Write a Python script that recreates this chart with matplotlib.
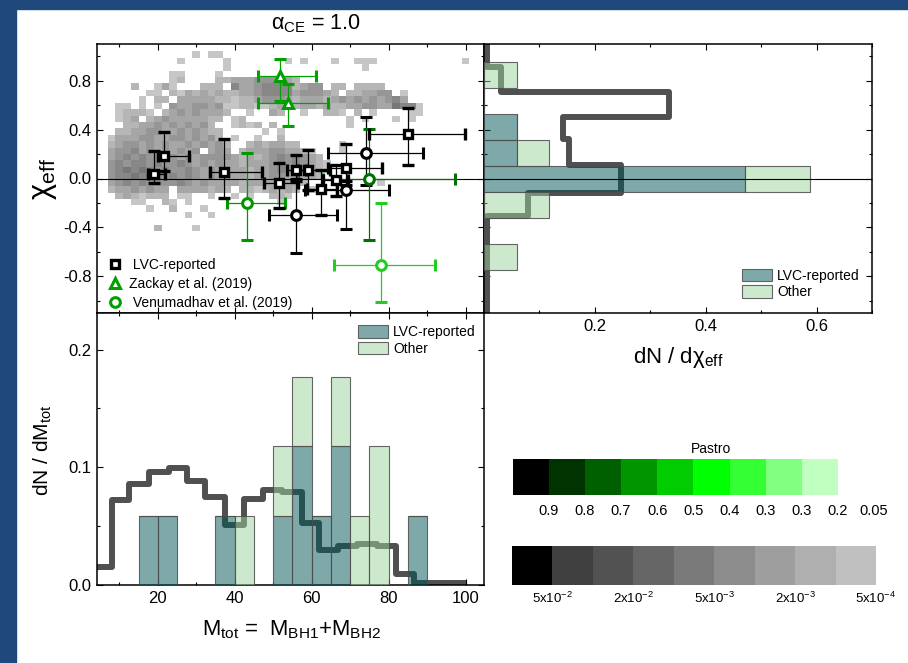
import numpy as np
import matplotlib
matplotlib.use('Agg')
import matplotlib.pyplot as plt
from matplotlib.colors import ListedColormap, BoundaryNorm
from matplotlib.lines import Line2D
from matplotlib.patches import Patch, Rectangle
from matplotlib.ticker import FixedLocator, MultipleLocator, FormatStrFormatter

plt.rcParams['font.family'] = ['Liberation Sans', 'DejaVu Sans']
plt.rcParams['mathtext.fontset'] = 'custom'
plt.rcParams['mathtext.rm'] = 'Liberation Sans'
plt.rcParams['mathtext.sf'] = 'Liberation Sans'
plt.rcParams['mathtext.it'] = 'Liberation Sans:italic'
plt.rcParams['mathtext.bf'] = 'Liberation Sans:bold'
plt.rcParams['axes.unicode_minus'] = False

# ---- LVC-reported events (total mass, chi_eff, asymmetric errors)
lvc_m = [18.9, 21.5, 37.1, 51.4, 55.8, 59.1, 62.5, 66.3, 69.0, 85.1]
lvc_m_lo = [1.4, 1.5, 3.5, 3.9, 2.3, 2.6, 3.8, 3.3, 4.8, 10.2]
lvc_m_hi = [3.1, 6.5, 10.0, 5.1, 2.7, 5.7, 4.0, 3.2, 9.3, 14.7]
lvc_chi = [0.035, 0.186, 0.05, -0.033, 0.072, 0.072, -0.088, -0.01, 0.082, 0.366]
lvc_chi_lo = [0.068, 0.126, 0.206, 0.211, 0.092, 0.162, 0.212, 0.13, 0.132, 0.254]
lvc_chi_hi = [0.192, 0.192, 0.27, 0.163, 0.122, 0.163, 0.158, 0.12, 0.198, 0.212]

# ---- other events (Zackay triangles, Venumadhav circles), colour by Pastro
oth_m = [51.8, 53.8, 74.1, 56.0, 69.0, 43.2, 75.0, 78.0]
oth_m_lo = [5.8, 7.8, 9.8, 7.1, 10.7, 5.2, 12.0, 12.2]
oth_m_hi = [9.3, 10.5, 14.8, 10.5, 11.0, 9.9, 22.2, 14.0]
oth_chi = [0.838, 0.619, 0.205, -0.30, -0.096, -0.197, 0.0, -0.704]
oth_chi_lo = [0.208, 0.189, 0.255, 0.308, 0.314, 0.308, 0.505, 0.306]
oth_chi_hi = [0.137, 0.151, 0.301, 0.30, 0.076, 0.407, 0.405, 0.501]
oth_marker = ['^', '^', 'o', 'o', 'o', 'o', 'o', 'o']
oth_color = ['#00a000', '#00a000', 'black', 'black', 'black', '#009600', '#007000', '#22cc22']

# ---- mass histogram (fractions of 17 events)
n_events = 17
mass_edges = [15, 20, 25, 30, 35, 40, 45, 50, 55, 60, 65, 70, 75, 80, 85, 90]
lvc_mass_counts = [1, 1, 0, 0, 1, 0, 0, 1, 2, 1, 2, 0, 0, 0, 1]
other_mass_counts = [0, 0, 0, 0, 0, 1, 0, 1, 1, 0, 1, 1, 2, 0, 0]

# ---- chi_eff histogram
chi_edges = [-0.745, -0.5325, -0.32, -0.1075, 0.105, 0.3175, 0.53, 0.7425, 0.955]
lvc_chi_counts = [0, 0, 0, 8, 1, 1, 0, 0]
other_chi_counts = [1, 0, 2, 2, 1, 0, 0, 1]

# ---- model distributions (step curves)
mass_step_edges = [4.2, 8.0, 12.6, 17.6, 22.9, 27.5, 32.4, 37.6, 42.5, 47.3, 52.3,
                   57.6, 62.0, 66.9, 71.9, 77.0, 82.0, 86.6, 100.2]
mass_step_vals = [0.0156, 0.072, 0.086, 0.096, 0.099, 0.088, 0.075, 0.051, 0.073,
                  0.081, 0.079, 0.053, 0.030, 0.033, 0.035, 0.033, 0.009, 0.002]
chi_step_edges = [-1.1, -0.31, -0.115, 0.11, 0.32, 0.50, 0.71, 0.915, 1.1]
chi_step_vals = [0.005, 0.079, 0.247, 0.154, 0.142, 0.333, 0.03, 0.005]

# ---- model 2D density, gray level per cell (row = chi bin from top, col = mass bin)
dens_rows = [
    [(11, "1"), (13, "11")],
    [(9, "1"), (15, "1"), (23, "1"), (25, "1"), (29, "1"), (32, "111"), (46, "1")],
    [(15, "1"), (33, "1")],
    [(8, "11"), (14, "1")],
    [(8, "12"), (14, "22333444332")],
    [(3, "2"), (6, "131"), (12, "222"), (16, "533455552344"), (29, "22"), (32, "2222")],
    [(5, "11"), (8, "2132323223345555344432"), (31, "223344"), (38, "1")],
    [(4, "1"), (6, "22"), (9, "33333"), (14, "22"), (16, "1"), (17, "22"), (19, "34443"),
     (24, "23332"), (29, "34343434"), (37, "53")],
    [(1, "11"), (4, "1"), (6, "1"), (8, "433443411221123323323223344336551")],
    [(1, "1222"), (5, "1"), (7, "234343"), (13, "332"), (18, "1"), (21, "32"), (25, "1"),
     (28, "221"), (32, "2"), (34, "1"), (39, "11")],
    [(1, "123"), (5, "23433333"), (13, "22"), (16, "12"), (31, "1"), (33, "1"), (37, "1"), (39, "1")],
    [(2, "22334343434"), (13, "2"), (16, "1212"), (21, "2"), (31, "1")],
    [(1, "223344334343"), (13, "22"), (20, "1"), (22, "1")],
    [(0, "13334433443434"), (14, "2"), (16, "1"), (19, "1"), (22, "2")],
    [(0, "2344343433434342"), (18, "23"), (20, "2332"), (24, "2"), (30, "1")],
    [(0, "344534343434"), (13, "343"), (17, "233"), (20, "344332"), (26, "1"), (30, "1")],
    [(0, "3454545343434444323234545432")],
    [(0, "45455454454343433233345454321")],
    [(0, "45656545445434333323345454321")],
    [(0, "4556565454543434332334434332")],
    [(0, "34545444454343333233333332"), (35, "1")],
    [(0, "23343433"), (9, "3333232"), (17, "22123232"), (26, "1")],
    [(1, "2321"), (5, "222"), (9, "11"), (13, "1"), (16, "1"), (18, "1"), (21, "221")],
    [(3, "11"), (7, "21"), (10, "1"), (22, "1")],
    [(5, "1"), (8, "2"), (12, "1")],
    [(10, "1"), (13, "1")],
    [],
    [(6, "2"), (11, "1")],
]
dens_colors = ['#c6c6c6', '#b6b6b6', '#a6a6a6', '#969696', '#878787', '#777777', '#676767']

pastro_colors = ['#000000', '#003300', '#006000', '#009600', '#00cc00', '#00ff00',
                 '#33ff33', '#80ff80', '#c0ffc0']
pastro_labels = ['0.9', '0.8', '0.7', '0.6', '0.5', '0.4', '0.3', '0.3', '0.2', '0.05']
density_colors = ['#000000', '#404040', '#525252', '#666666', '#7a7a7a', '#8c8c8c',
                  '#9e9e9e', '#afafaf', '#c0c0c0']
density_labels = ['5x10$^{-2}$', '2x10$^{-2}$', '5x10$^{-3}$', '2x10$^{-3}$', '5x10$^{-4}$']
density_label_pos = [1, 3, 5, 7, 9]

lvc_face = (0.0, 0.333, 0.333, 0.5)
other_face = (0.616, 0.835, 0.616, 0.5)
bar_edge = (0.3, 0.3, 0.3, 0.85)
step_color = '#505050'

W, H = 908, 663
fig = plt.figure(figsize=(W / 100, H / 100), dpi=100)
ax_sc = fig.add_axes([97 / W, 1 - 313 / H, 387 / W, 269 / H])
ax_ch = fig.add_axes([484 / W, 1 - 313 / H, 388 / W, 269 / H])
ax_m = fig.add_axes([97 / W, 1 - 585 / H, 387 / W, 272 / H])

# ---- scatter panel
dens = np.full((len(dens_rows), 48), np.nan)
for r, segs in enumerate(dens_rows):
    for start, s in segs:
        for i, ch in enumerate(s):
            if ch != '.':
                dens[r, start + i] = int(ch)
x_edges = np.arange(7, 104, 2)
y_edges = 1.04 - 0.0525 * np.arange(len(dens_rows) + 1)
ax_sc.pcolormesh(x_edges, y_edges, np.ma.masked_invalid(dens),
                 cmap=ListedColormap(dens_colors),
                 norm=BoundaryNorm(np.arange(0.5, 8.5, 1), 7),
                 edgecolors='none', antialiased=False, zorder=1)
ax_sc.axhline(0, color='black', lw=0.8, zorder=4)

ax_sc.errorbar(lvc_m, lvc_chi, xerr=[lvc_m_lo, lvc_m_hi], yerr=[lvc_chi_lo, lvc_chi_hi],
               fmt='s', ms=5.5, mfc='white', mec='black', mew=2.4, ecolor='black',
               elinewidth=0.9, capsize=4.5, capthick=0.9, zorder=6)
for i in range(len(oth_m)):
    ms = 7.5 if oth_marker[i] == '^' else 7.0
    ax_sc.errorbar([oth_m[i]], [oth_chi[i]], xerr=[[oth_m_lo[i]], [oth_m_hi[i]]],
                   yerr=[[oth_chi_lo[i]], [oth_chi_hi[i]]], fmt=oth_marker[i], ms=ms,
                   mfc='white', mec=oth_color[i], mew=2.2, ecolor=oth_color[i],
                   elinewidth=0.9, capsize=4.5, capthick=0.9, zorder=5)

handles = [Line2D([], [], ls='none', marker='s', ms=5.5, mfc='white', mec='black', mew=2.4),
           Line2D([], [], ls='none', marker='^', ms=7.5, mfc='white', mec='#00a000', mew=2.2),
           Line2D([], [], ls='none', marker='o', ms=7.0, mfc='white', mec='#00a000', mew=2.2)]
ax_sc.legend(handles, [' LVC-reported', 'Zackay et al. (2019)', ' Venumadhav et al. (2019)'],
             loc='upper left', bbox_to_anchor=(0.028, 0.205), frameon=False, fontsize=10,
             handlelength=1.0, handletextpad=0.55, labelspacing=0.36, borderpad=0,
             borderaxespad=0)

ax_sc.set_xlim(4.2, 104.8)
ax_sc.set_ylim(-1.1, 1.1)
ax_sc.xaxis.set_major_locator(MultipleLocator(20))
ax_sc.xaxis.set_minor_locator(MultipleLocator(10))
ax_sc.yaxis.set_major_locator(FixedLocator([-0.8, -0.4, 0.0, 0.4, 0.8]))
ax_sc.yaxis.set_minor_locator(FixedLocator([-1.0, -0.6, -0.2, 0.2, 0.6, 1.0]))
ax_sc.yaxis.set_major_formatter(FormatStrFormatter('%.1f'))
ax_sc.tick_params(labelbottom=False)

# ---- chi_eff histogram panel
ax_ch.stairs(chi_step_vals, chi_step_edges, orientation='horizontal', baseline=None,
             color=step_color, lw=4.3, joinstyle='round', zorder=2)
lvc_frac = np.array(lvc_chi_counts) / n_events
oth_frac = np.array(other_chi_counts) / n_events
chi_lo = np.array(chi_edges[:-1])
chi_h = np.diff(chi_edges)
ax_ch.barh(chi_lo, lvc_frac, height=chi_h, align='edge', color=lvc_face,
           edgecolor=bar_edge, lw=0.8, zorder=3)
ax_ch.barh(chi_lo, oth_frac, height=chi_h, left=lvc_frac, align='edge', color=other_face,
           edgecolor=bar_edge, lw=0.8, zorder=3)
ax_ch.axhline(0, color='black', lw=0.8, zorder=4)
bar_handles = [Patch(fc=lvc_face, ec=bar_edge, lw=0.8), Patch(fc=other_face, ec=bar_edge, lw=0.8)]
ax_ch.legend(bar_handles, ['LVC-reported', 'Other'], loc='upper left',
             bbox_to_anchor=(0.664, 0.165), frameon=False, fontsize=10, handlelength=2.2,
             handleheight=1.0, handletextpad=0.35, labelspacing=0.2, borderpad=0,
             borderaxespad=0)
ax_ch.set_xlim(0, 0.7)
ax_ch.set_ylim(-1.1, 1.1)
ax_ch.xaxis.set_major_locator(FixedLocator([0.2, 0.4, 0.6]))
ax_ch.xaxis.set_minor_locator(FixedLocator([0.1, 0.3, 0.5, 0.7]))
ax_ch.xaxis.set_major_formatter(FormatStrFormatter('%.1f'))
ax_ch.yaxis.set_major_locator(FixedLocator([-0.8, -0.4, 0.0, 0.4, 0.8]))
ax_ch.yaxis.set_minor_locator(FixedLocator([-1.0, -0.6, -0.2, 0.2, 0.6, 1.0]))
ax_ch.tick_params(labelleft=False)

# ---- mass histogram panel
ax_m.stairs(mass_step_vals, mass_step_edges, baseline=None, color=step_color, lw=4.3,
            joinstyle='round', zorder=2)
lvc_mf = np.array(lvc_mass_counts) / n_events
oth_mf = np.array(other_mass_counts) / n_events
m_lo = np.array(mass_edges[:-1])
m_w = np.diff(mass_edges)
ax_m.bar(m_lo, lvc_mf, width=m_w, align='edge', color=lvc_face, edgecolor=bar_edge, lw=0.8,
         zorder=3)
ax_m.bar(m_lo, oth_mf, width=m_w, bottom=lvc_mf, align='edge', color=other_face,
         edgecolor=bar_edge, lw=0.8, zorder=3)
ax_m.legend(bar_handles, ['LVC-reported', 'Other'], loc='upper left',
            bbox_to_anchor=(0.674, 0.955), frameon=False, fontsize=10, handlelength=2.2,
            handleheight=1.0, handletextpad=0.35, labelspacing=0.2, borderpad=0,
            borderaxespad=0)
ax_m.set_xlim(4.2, 104.8)
ax_m.set_ylim(0, 0.231)
ax_m.xaxis.set_major_locator(MultipleLocator(20))
ax_m.xaxis.set_minor_locator(MultipleLocator(10))
ax_m.yaxis.set_major_locator(FixedLocator([0.0, 0.1, 0.2]))
ax_m.yaxis.set_minor_locator(FixedLocator([0.05, 0.15]))
ax_m.yaxis.set_major_formatter(FormatStrFormatter('%.1f'))

for ax in (ax_sc, ax_ch, ax_m):
    ax.tick_params(which='both', direction='in', top=True, right=True, labelsize=12,
                   width=0.8, colors='black')
    ax.tick_params(which='major', length=4.5, pad=4)
    ax.tick_params(which='minor', length=2.5)
    for sp in ax.spines.values():
        sp.set_linewidth(1.1)

# ---- labels
fig.text(316 / W, 1 - 24 / H, r'α$_{\rm CE}$ = 1.0', fontsize=15.5, ha='center', va='center')
fig.text(44 / W, 1 - 179 / H, r'χ$_{\rm eff}$', fontsize=22, rotation=90,
         ha='center', va='center')
fig.text(43 / W, 1 - 450 / H, r'dN / dM$_{\rm tot}$', fontsize=15, rotation=90,
         ha='center', va='center')
fig.text(292 / W, 1 - 630 / H, r'M$_{\rm tot}$ =  M$_{\rm BH1}$+M$_{\rm BH2}$', fontsize=15.8,
         ha='center', va='center')
fig.text(678 / W, 1 - 357 / H, r'dN / dχ$_{\rm eff}$', fontsize=16, ha='center',
         va='center')

# ---- colour keys
cax1 = fig.add_axes([512.7 / W, 1 - 495 / H, 325 / W, 35.7 / H])
cax1.imshow(np.arange(len(pastro_colors))[None, :], cmap=ListedColormap(pastro_colors),
            aspect='auto', extent=[0, len(pastro_colors), 0, 1], interpolation='nearest')
cax1.set_xlim(0, len(pastro_colors))
cax1.set_ylim(0, 1)
cax1.axis('off')
for i, lab in enumerate(pastro_labels):
    cax1.text(i + 1, -0.44, lab, ha='center', va='center', fontsize=10.5, clip_on=False)
cax1.text(5.48, 1.3, 'Pastro', ha='center', va='center', fontsize=10, clip_on=False)

cax2 = fig.add_axes([512 / W, 1 - 585.3 / H, 364 / W, 39.3 / H])
cax2.imshow(np.arange(len(density_colors))[None, :], cmap=ListedColormap(density_colors),
            aspect='auto', extent=[0, len(density_colors), 0, 1], interpolation='nearest')
cax2.set_xlim(0, len(density_colors))
cax2.set_ylim(0, 1)
cax2.axis('off')
for pos, lab in zip(density_label_pos, density_labels):
    cax2.text(pos, -0.33, lab, ha='center', va='center', fontsize=9.5, clip_on=False)

# ---- slide frame
fig.patches.append(Rectangle((0, 0), 16 / W, 1, transform=fig.transFigure,
                             color='#1f497d', zorder=0))
fig.patches.append(Rectangle((0, 1 - 9 / H), 1, 9 / H, transform=fig.transFigure,
                             color='#1f497d', zorder=0))

fig.savefig('out.png', dpi=100)
